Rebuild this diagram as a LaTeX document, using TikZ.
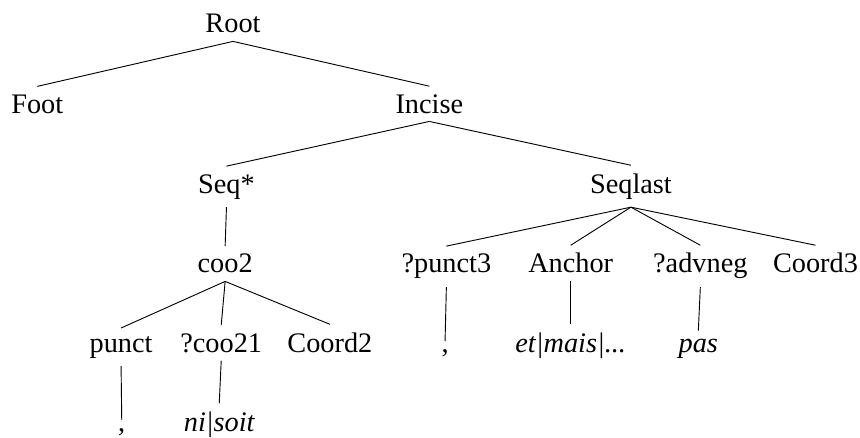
\documentclass[tikz,border=0pt]{standalone}
\usepackage{fontspec}
\setmainfont{Liberation Serif}
\usepackage{tikz}
\usetikzlibrary{positioning}

\begin{document}
\begin{tikzpicture}[
  cat/.style={anchor=base,font=\fontsize{12.3}{14}\selectfont},
  lex/.style={cat,font=\fontsize{12.3}{14}\selectfont\itshape},
  edge/.style={draw,line width=0.4pt},
]
\useasboundingbox (0,0) rectangle (13.14,-6.677);

% Top levels
\node[cat] (root) at (3.56,-0.504) {Root};
\node[cat] (foot) at (0.57,-1.727) {Foot};
\node[cat] (incise) at (6.56,-1.727) {Incise};
\node[cat] (seq) at (3.46,-2.949) {Seq*};
\node[cat] (seqlast) at (9.64,-2.949) {Seqlast};

% Left branch
\node[cat] (coo2) at (3.44,-4.171) {coo2};
\node[cat] (punct) at (1.85,-5.379) {punct};
\node[cat] (coo21) at (3.38,-5.379) {?coo21};
\node[cat] (coord2) at (5.04,-5.379) {Coord2};
\node[cat] (comma1) at (1.86,-6.586) {,};
\node[lex] (nisoit) at (3.35,-6.586) {ni|soit};

% Right branch
\node[cat] (punct3) at (6.82,-4.171) {?punct3};
\node[cat] (anchor) at (8.72,-4.171) {Anchor};
\node[cat] (advneg) at (10.70,-4.171) {?advneg};
\node[cat] (coord3) at (12.46,-4.171) {Coord3};
\node[cat] (comma2) at (6.80,-5.379) {,};
\node[lex] (etmais) at (8.72,-5.379) {et|mais|...};
\node[lex] (pas) at (10.67,-5.379) {pas};

% Edges
\draw[edge] (root.south) -- (foot.north);
\draw[edge] (root.south) -- (incise.north);
\draw[edge] (incise.south) -- (seq.north);
\draw[edge] (incise.south) -- (seqlast.north);
\draw[edge] (seq.south) -- (coo2.north);
\draw[edge] (coo2.south) -- (punct.north);
\draw[edge] (coo2.south) -- (coo21.north);
\draw[edge] (coo2.south) -- (coord2.north);
\draw[edge] (punct.south) -- (comma1.north);
\draw[edge] (coo21.south) -- (nisoit.north);
\draw[edge] (seqlast.south) -- (punct3.north);
\draw[edge] (seqlast.south) -- (anchor.north);
\draw[edge] (seqlast.south) -- (advneg.north);
\draw[edge] (seqlast.south) -- (coord3.north);
\draw[edge] (punct3.south) -- (comma2.north);
\draw[edge] (anchor.south) -- (etmais.north);
\draw[edge] (advneg.south) -- (pas.north);

\end{tikzpicture}
\end{document}
